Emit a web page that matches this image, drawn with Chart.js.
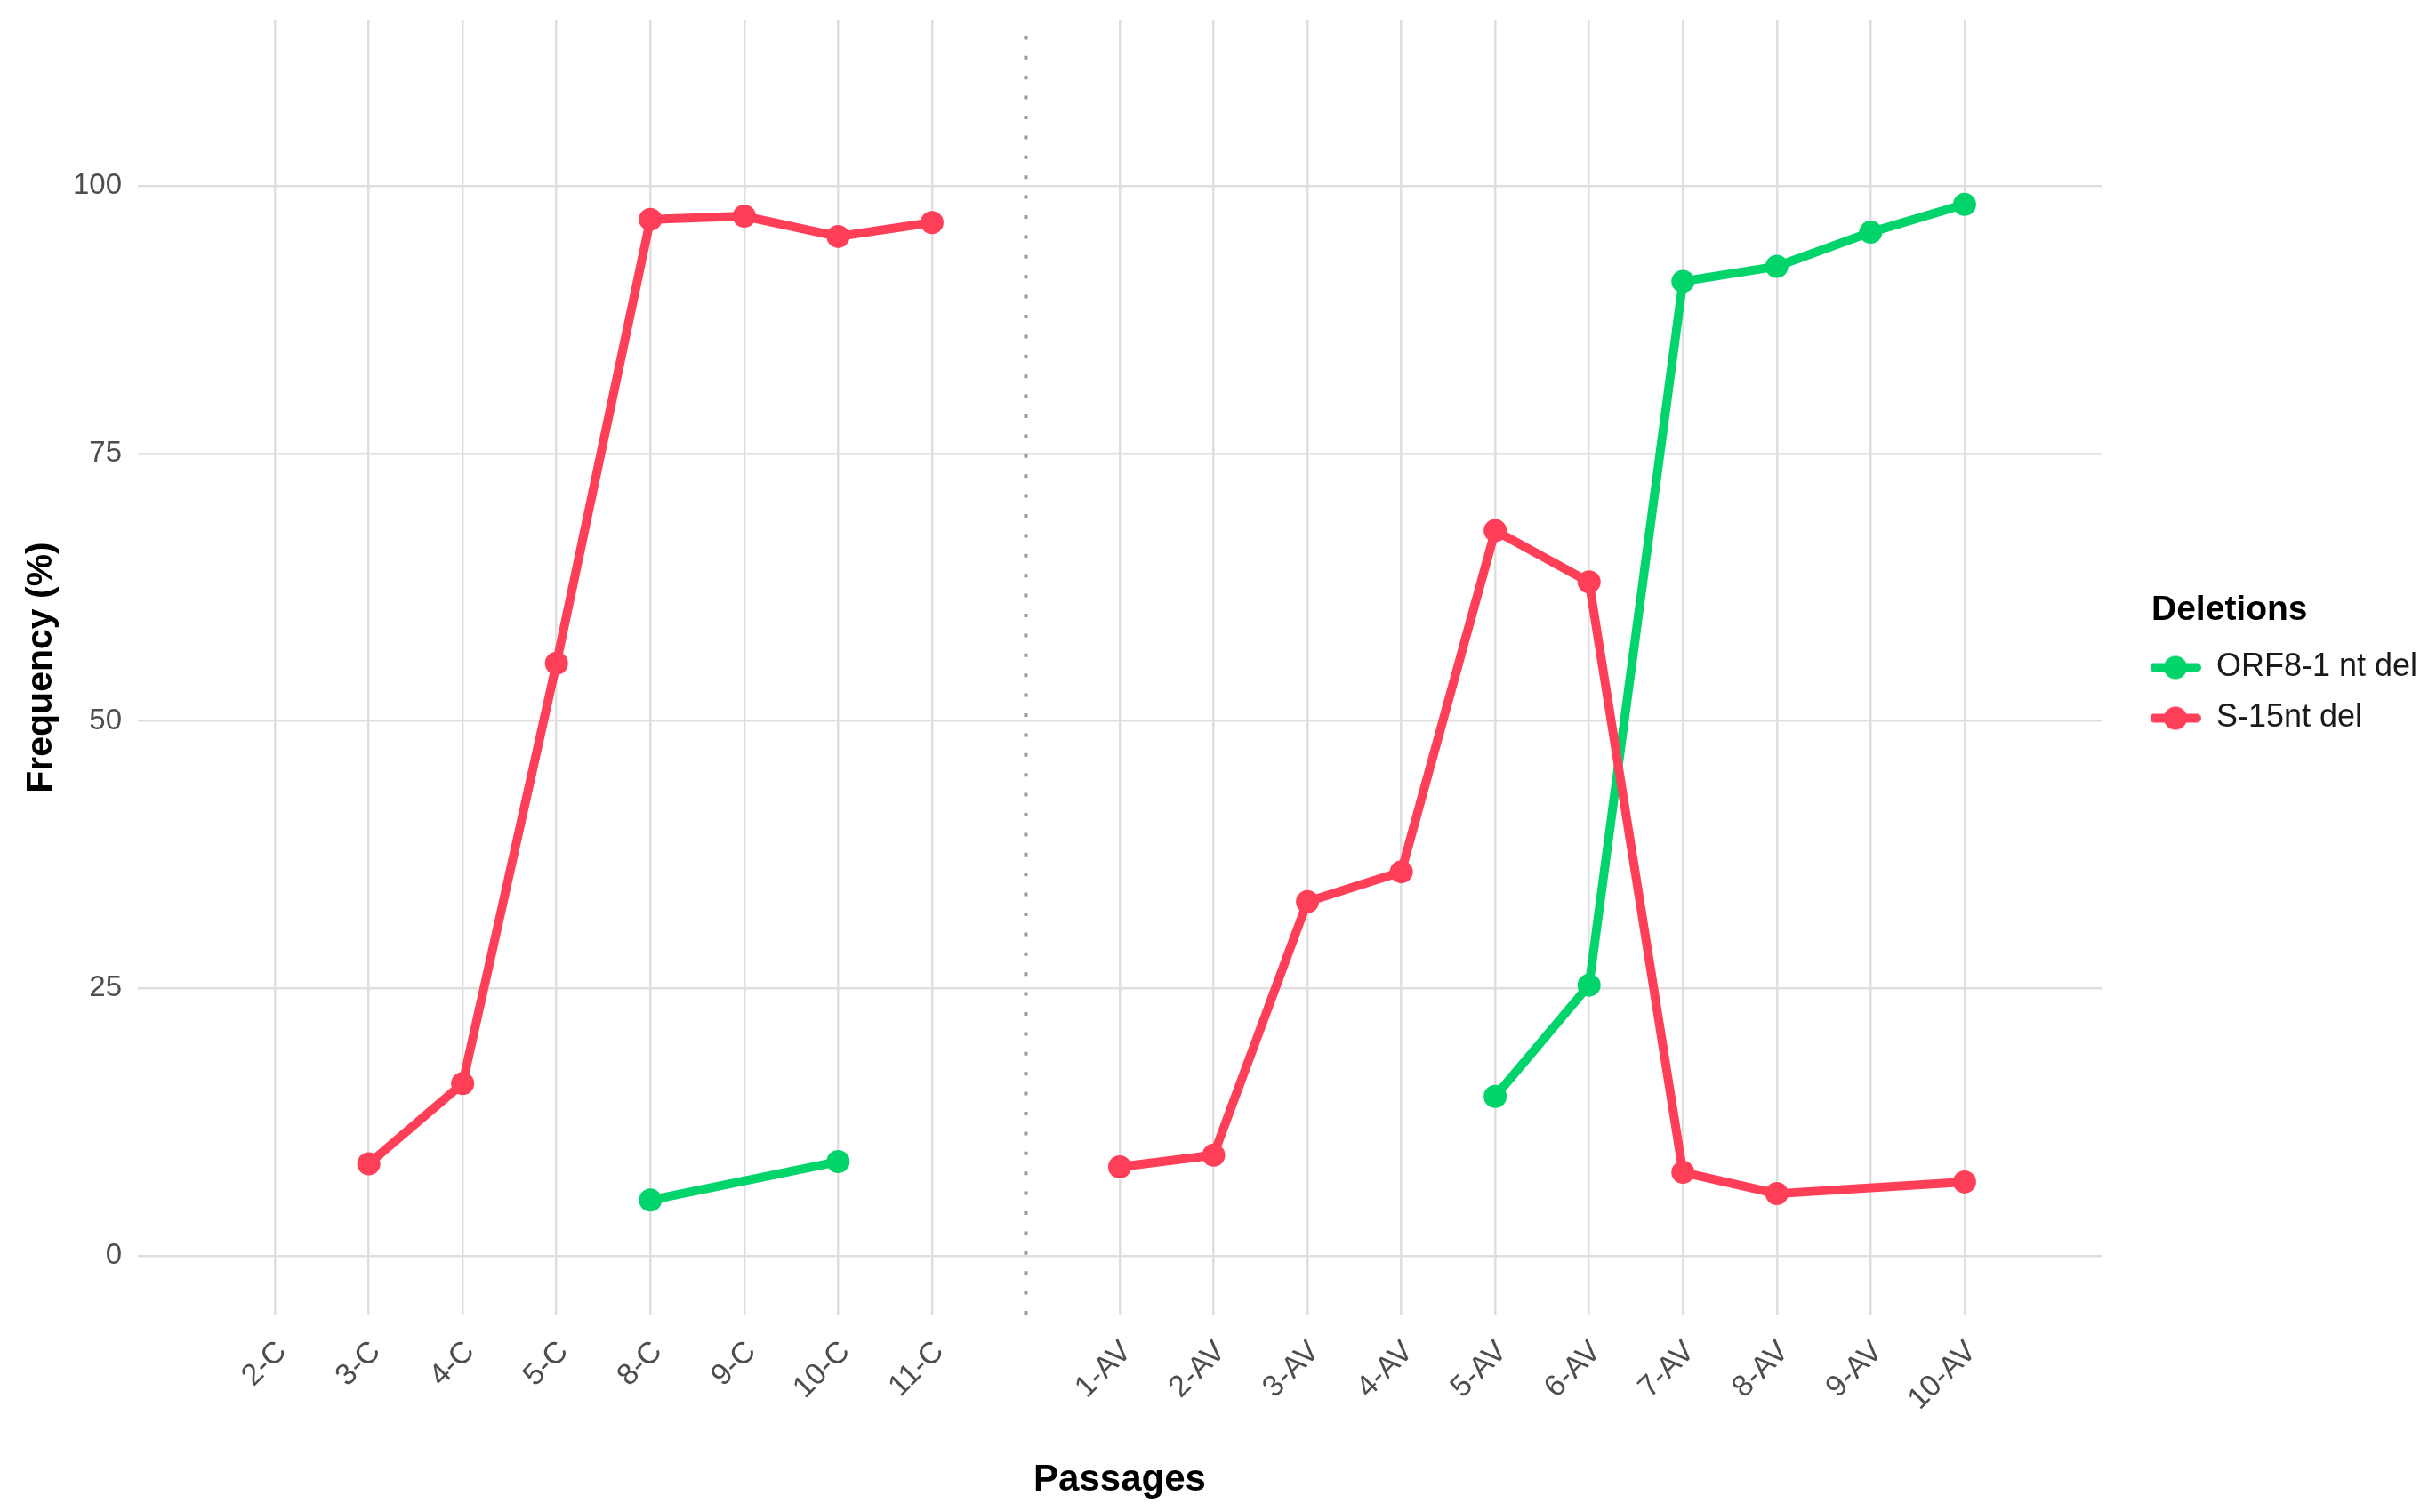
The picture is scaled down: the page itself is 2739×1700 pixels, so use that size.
<!DOCTYPE html>
<html>
<head>
<meta charset="utf-8">
<title>Deletions frequency by passage</title>
<script src="https://cdn.jsdelivr.net/npm/chart.js@4.4.1/dist/chart.umd.min.js"></script>
<style>
  html, body { margin: 0; padding: 0; background: #fff; }
  #wrap { width: 2739px; height: 1700px; }
</style>
</head>
<body>
<div id="wrap"><canvas id="deletionsChart" width="2739" height="1700"></canvas></div>
<script>
// Passages on the x axis; the blank one is where the dotted divider sits
const passages = ['2-C', '3-C', '4-C', '5-C', '8-C', '9-C', '10-C', '11-C', '',
  '1-AV', '2-AV', '3-AV', '4-AV', '5-AV', '6-AV', '7-AV', '8-AV', '9-AV', '10-AV'];

// Frequency (%) per passage, null = not detected
const orf8Values = [null, null, null, null, 5.2, null, 8.8, null, null,
  null, null, null, null, 14.9, 25.3, 91.1, 92.5, 95.7, 98.3];
const s15Values = [null, 8.6, 16.1, 55.4, 96.9, 97.2, 95.3, 96.6, null,
  8.3, 9.4, 33.1, 35.9, 67.8, 63.0, 7.8, 5.8, null, 6.9];

const seriesNames = ['ORF8-1 nt del', 'S-15nt del'];
const yTicks = [0, 25, 50, 75, 100];

const seriesColors = ['#00D46A', '#FF3F58'];
const fontFamily = '"Liberation Sans", Arial, Helvetica, sans-serif';
const gridColor = '#dfdfdf';
const dividerIndex = passages.indexOf('');
const yMin = -5.5, yMax = 115.5;

function toPoints(values) {
  return values.map((v, i) => ({ x: i, y: v })).filter(p => p.y !== null);
}

// no line across the C / AV divider
function hideAcrossDivider(ctx) {
  if (ctx.p0.parsed.x < dividerIndex && ctx.p1.parsed.x > dividerIndex) return 'rgba(0,0,0,0)';
  return undefined;
}

// ggplot-like legend key: short line with a dot on it
function makeKey(color) {
  const c = document.createElement('canvas');
  c.width = 80;
  c.height = 30;
  const g = c.getContext('2d');
  g.strokeStyle = color;
  g.lineWidth = 10;
  g.lineCap = 'round';
  g.beginPath();
  g.moveTo(5, 15);
  g.lineTo(53, 15);
  g.stroke();
  g.fillStyle = color;
  g.beginPath();
  g.arc(29, 15, 13, 0, Math.PI * 2);
  g.fill();
  return c;
}
const legendKeys = seriesColors.map(makeKey);

// work out the legend width so the legend title lands where the reference has it
const legendFontSize = 36;
const legendPadding = 21;
const legendBoxWidth = 34;
const measureCtx = document.createElement('canvas').getContext('2d');
measureCtx.font = legendFontSize + 'px ' + fontFamily;
const longestLabel = Math.max(...seriesNames.map(n => measureCtx.measureText(n).width));
const legendWidth = legendPadding + legendBoxWidth + legendFontSize / 2 + longestLabel + 10;
const legendLeft = 2419;
const rightPad = Math.max(0, 2739 - legendLeft - legendWidth);

const ctx = document.getElementById('deletionsChart').getContext('2d');
window.deletionsChart = new Chart(ctx, {
  type: 'line',
  data: {
    datasets: [
      {
        label: seriesNames[0],
        data: toPoints(orf8Values),
        borderColor: seriesColors[0],
        backgroundColor: seriesColors[0],
        borderWidth: 10,
        borderJoinStyle: 'round',
        borderCapStyle: 'round',
        pointRadius: 13,
        pointHoverRadius: 13,
        pointBorderWidth: 0,
        spanGaps: true,
        segment: { borderColor: hideAcrossDivider },
        order: 2
      },
      {
        label: seriesNames[1],
        data: toPoints(s15Values),
        borderColor: seriesColors[1],
        backgroundColor: seriesColors[1],
        borderWidth: 10,
        borderJoinStyle: 'round',
        borderCapStyle: 'round',
        pointRadius: 13,
        pointHoverRadius: 13,
        pointBorderWidth: 0,
        spanGaps: true,
        segment: { borderColor: hideAcrossDivider },
        order: 1
      },
      {
        label: 'divider',
        data: [{ x: dividerIndex, y: yMin }, { x: dividerIndex, y: yMax }],
        borderColor: '#9a9a9a',
        borderWidth: 4,
        borderDash: [4, 18.4],
        borderCapStyle: 'butt',
        pointRadius: 0,
        order: 3
      }
    ]
  },
  options: {
    responsive: false,
    animation: false,
    devicePixelRatio: 1,
    events: [],
    layout: { padding: { top: 23, right: rightPad, bottom: 0, left: 0 } },
    scales: {
      x: {
        type: 'linear',
        min: -1.46,
        max: 19.46,
        afterBuildTicks: s => { s.ticks = passages.map((p, i) => ({ value: i })); },
        afterFit: s => { s.height = 222; s.paddingLeft = 0; s.paddingRight = 0; },
        grid: {
          color: c => (c.tick && passages[c.tick.value] === '') ? 'rgba(0,0,0,0)' : gridColor,
          lineWidth: 2.5,
          drawTicks: false
        },
        border: { display: false },
        ticks: {
          autoSkip: false,
          minRotation: 45,
          maxRotation: 45,
          padding: 22,
          labelOffset: 8,
          color: '#4d4d4d',
          font: { size: 34, family: fontFamily },
          callback: v => passages[v] ?? ''
        },
        title: {
          display: true,
          text: 'Passages',
          color: '#000',
          font: { size: 42, weight: 'bold', family: fontFamily },
          padding: { top: 0, bottom: 10 }
        }
      },
      y: {
        min: yMin,
        max: yMax,
        afterBuildTicks: s => { s.ticks = yTicks.map(v => ({ value: v })); },
        // tick labels sit well inside the panel, so no extra room above/below
        afterFit: s => { s.width = 155; s.paddingTop = 0; s.paddingBottom = 0; },
        grid: { color: gridColor, lineWidth: 2.5, drawTicks: false },
        border: { display: false },
        ticks: {
          padding: 18,
          color: '#4d4d4d',
          font: { size: 33, family: fontFamily }
        },
        title: {
          display: true,
          text: 'Frequency (%)',
          color: '#000',
          font: { size: 41, weight: 'bold', family: fontFamily },
          padding: { top: 22, bottom: 0 }
        }
      },
      // empty scale, only keeps the gap between the panel and the legend
      gap: {
        type: 'linear',
        position: 'right',
        display: true,
        grid: { display: false },
        border: { display: false },
        ticks: { display: false },
        afterFit: s => { s.width = 56; s.paddingTop = 0; s.paddingBottom = 0; }
      }
    },
    plugins: {
      tooltip: { enabled: false },
      legend: {
        position: 'right',
        align: 'center',
        fullSize: false,
        title: {
          display: true,
          text: 'Deletions',
          position: 'start',
          color: '#000',
          font: { size: 39, weight: 'bold', family: fontFamily, lineHeight: 1 },
          padding: { top: 12, bottom: 6 }
        },
        labels: {
          usePointStyle: true,
          boxWidth: legendBoxWidth,
          padding: legendPadding,
          color: '#1a1a1a',
          font: { size: legendFontSize, family: fontFamily },
          generateLabels: chart => Chart.defaults.plugins.legend.labels.generateLabels(chart)
            .filter(l => l.datasetIndex < seriesNames.length)
            .map(l => Object.assign(l, { pointStyle: legendKeys[l.datasetIndex] })),
          sort: (a, b) => a.datasetIndex - b.datasetIndex
        }
      }
    }
  }
});
</script>
</body>
</html>
